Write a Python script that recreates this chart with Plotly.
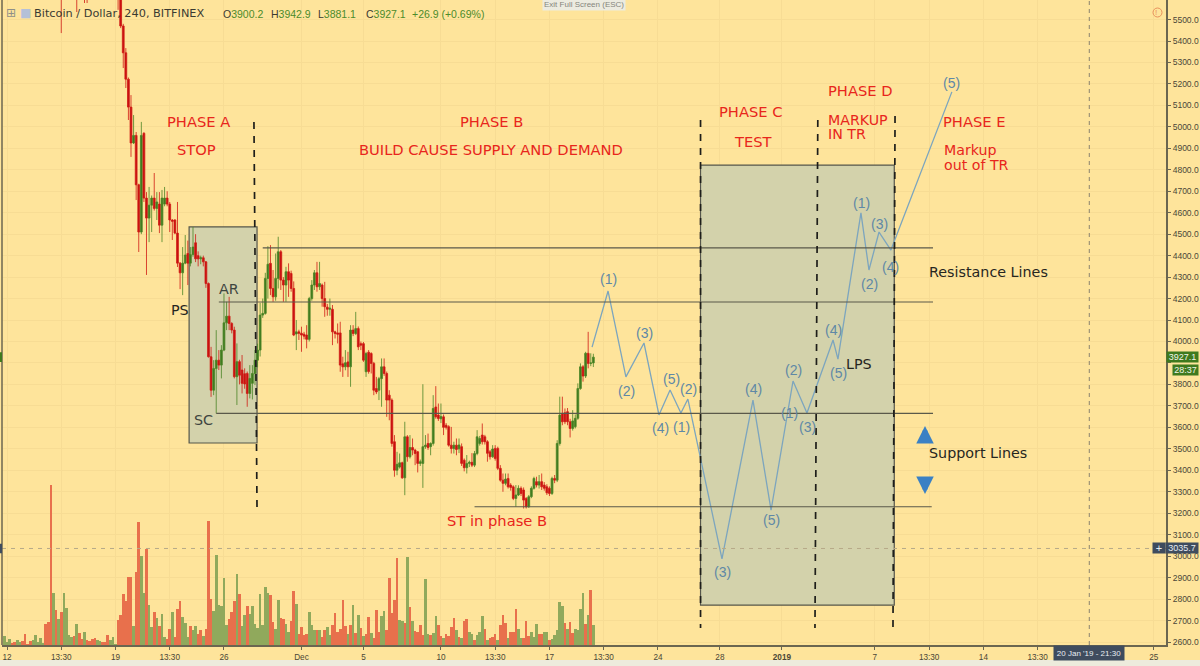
# Bitcoin / Dollar 4h chart with Wyckoff phases, bars are numbered from 12 Nov (6 bars per day)
import plotly.graph_objects as go

# candles
candle_bar = [21, 27, 30, 31] + list(range(43, 228))
candle_open = [5800, 5800, 5800, 5800, 5700,
    5640, 5470, 5345, 5222, 5092, 4925, 4960, 4730, 4510, 4970,
    4668, 4575, 4635, 4668, 4620, 4640, 4542, 4640, 4668, 4640,
    4566, 4566, 4505, 4365, 4320, 4365, 4410, 4365, 4405, 4460,
    4400, 4385, 4390, 4371, 4270, 3929, 3773, 3874, 3913, 3890,
    3960, 4087, 4118, 4084, 4053, 3836, 3906, 3867, 3850, 3851,
    3758, 3805, 3851, 3913, 3960, 4123, 4131, 4294, 4364, 4247,
    4208, 4294, 4418, 4286, 4263, 4325, 4317, 4247, 4035, 4045,
    4038, 4034, 4030, 4010, 4200, 4263, 4320, 4255, 4263, 4200,
    4160, 4150, 4150, 4045, 4040, 4040, 3896, 3882, 3905, 3882,
    4053, 4037, 4060, 3990, 3990, 3859, 3950, 3944, 3898, 3781,
    3773, 3827, 3882, 3851, 3750, 3727, 3533, 3400, 3415, 3435,
    3365, 3556, 3463, 3506, 3494, 3486, 3432, 3432, 3510, 3525,
    3510, 3525, 3695, 3657, 3640, 3649, 3610, 3603, 3517, 3501,
    3517, 3500, 3510, 3447, 3412, 3432, 3437, 3424, 3478, 3525,
    3564, 3556, 3533, 3486, 3463, 3502, 3502, 3409, 3354, 3339,
    3362, 3331, 3323, 3269, 3285, 3316, 3308, 3269, 3230, 3277,
    3316, 3347, 3331, 3347, 3331, 3323, 3316, 3292, 3362, 3354,
    3525, 3665, 3668, 3673, 3626, 3595, 3603, 3642, 3781, 3882,
    3839, 3945, 3898, 3900.2]
candle_high = [5900, 5900, 5900, 5900, 5750,
    5650, 5480, 5367, 5230, 5148, 5055, 4976, 4735, 5023, 4975,
    4696, 4720, 4680, 4785, 4696, 4696, 4706, 4720, 4700, 4650,
    4570, 4570, 4650, 4370, 4440, 4496, 4470, 4440, 4533, 4500,
    4420, 4400, 4400, 4375, 4275, 3975, 3913, 4053, 3960, 3983,
    4224, 4185, 4208, 4090, 4069, 3991, 3915, 3937, 3875, 3860,
    3890, 3890, 3960, 3990, 4180, 4200, 4320, 4444, 4449, 4333,
    4410, 4488, 4426, 4300, 4348, 4364, 4330, 4280, 4100, 4055,
    4069, 4045, 4076, 4208, 4286, 4333, 4371, 4371, 4270, 4278,
    4175, 4200, 4170, 4050, 4084, 4092, 3929, 3960, 3952, 4076,
    4076, 4138, 4070, 4000, 3998, 3952, 3960, 3950, 3905, 3835,
    3835, 3921, 3921, 3860, 3773, 3735, 3564, 3486, 3478, 3440,
    3626, 3564, 3564, 3548, 3500, 3490, 3450, 3801, 3564, 3571,
    3530, 3750, 3792, 3711, 3711, 3660, 3620, 3610, 3602, 3533,
    3548, 3548, 3525, 3455, 3471, 3445, 3480, 3490, 3587, 3560,
    3618, 3565, 3540, 3495, 3517, 3517, 3510, 3424, 3385, 3385,
    3385, 3340, 3330, 3331, 3330, 3325, 3320, 3275, 3285, 3325,
    3370, 3370, 3378, 3385, 3345, 3335, 3325, 3370, 3378, 3540,
    3743, 3743, 3688, 3690, 3640, 3680, 3660, 3805, 3898, 3890,
    3952, 4045, 3945, 3942.9]
candle_low = [5437, 5535, 5577, 5577, 5545,
    5460, 5274, 5181, 5032, 4860, 4920, 4659, 4417, 4500, 4650,
    4310, 4463, 4510, 4610, 4566, 4505, 4463, 4630, 4630, 4510,
    4473, 4500, 4347, 4244, 4216, 4360, 4263, 4350, 4395, 4370,
    4350, 4360, 4350, 4250, 3925, 3742, 3750, 3665, 3867, 3828,
    3955, 4053, 4053, 4038, 3828, 3704, 3800, 3758, 3780, 3696,
    3735, 3730, 3797, 3880, 3930, 4110, 4125, 4200, 4216, 4185,
    4190, 4247, 4240, 4185, 4185, 4208, 4232, 4025, 3960, 4007,
    3952, 4010, 3968, 4000, 4190, 4240, 4232, 4240, 4162, 4115,
    4120, 4120, 3983, 4014, 3991, 3859, 3835, 3866, 3835, 3789,
    4025, 4030, 3960, 3960, 3905, 3835, 3850, 3851, 3750, 3755,
    3727, 3696, 3840, 3649, 3633, 3510, 3370, 3377, 3408, 3360,
    3284, 3440, 3455, 3470, 3424, 3390, 3420, 3318, 3500, 3495,
    3470, 3515, 3640, 3630, 3620, 3564, 3590, 3510, 3478, 3478,
    3470, 3480, 3420, 3395, 3385, 3415, 3415, 3415, 3470, 3515,
    3520, 3520, 3440, 3450, 3458, 3445, 3401, 3347, 3300, 3330,
    3315, 3305, 3261, 3230, 3280, 3280, 3222, 3222, 3225, 3270,
    3310, 3320, 3315, 3308, 3305, 3285, 3280, 3285, 3340, 3345,
    3515, 3610, 3615, 3610, 3553, 3585, 3595, 3635, 3775, 3813,
    3830, 3875, 3885, 3881.1]
candle_close = [5750, 5750, 5750, 5750, 5640,
    5470, 5345, 5222, 5092, 4925, 4960, 4730, 4510, 4960, 4668,
    4575, 4635, 4668, 4620, 4650, 4542, 4668, 4668, 4640, 4566,
    4560, 4505, 4365, 4320, 4365, 4403, 4365, 4405, 4440, 4385,
    4385, 4390, 4371, 4270, 3929, 3773, 3874, 3913, 3890, 3960,
    4087, 4118, 4084, 4053, 3836, 3906, 3843, 3805, 3802, 3758,
    3828, 3851, 3913, 3960, 4123, 4131, 4294, 4360, 4247, 4208,
    4294, 4418, 4286, 4263, 4325, 4286, 4247, 4030, 4045, 4038,
    4030, 4025, 4010, 4200, 4263, 4320, 4255, 4270, 4200, 4162,
    4150, 4155, 4045, 4037, 4034, 3890, 3882, 3901, 3882, 4053,
    4037, 4060, 3975, 3983, 3913, 3944, 3860, 3898, 3773, 3765,
    3827, 3882, 3851, 3727, 3727, 3525, 3400, 3428, 3435, 3365,
    3556, 3463, 3506, 3494, 3478, 3432, 3440, 3510, 3517, 3506,
    3525, 3688, 3649, 3641, 3650, 3600, 3600, 3517, 3501, 3517,
    3497, 3518, 3432, 3412, 3432, 3437, 3424, 3478, 3556, 3548,
    3533, 3533, 3479, 3463, 3499, 3455, 3409, 3354, 3339, 3359,
    3323, 3320, 3269, 3285, 3316, 3292, 3261, 3230, 3277, 3316,
    3362, 3331, 3347, 3323, 3316, 3295, 3292, 3362, 3354, 3525,
    3657, 3626, 3626, 3626, 3595, 3630, 3642, 3781, 3882, 3839,
    3945, 3898, 3900, 3927.1]

# volume, first bar is number -1, side r = down bar, g = up bar
volume_bar = list(range(-1, 228))
volume = [9, 3, 6, 2, 3, 5, 3, 4, 11, 1, 4, 5, 10, 3, 7, 2,
    21, 23, 160, 52, 35, 26, 33, 52, 37, 10, 8, 9, 21, 12, 6, 13, 5, 4, 6, 7, 5, 4, 3, 3, 10, 5, 8, 1,
    25, 30, 51, 44, 68, 68, 19, 73, 123, 89, 52, 96, 40, 18, 33, 27, 19, 31, 8, 6, 16, 33, 8, 36, 44, 28, 22,
    8, 19, 15, 19, 11, 15, 9, 16, 124, 46, 34, 90, 40, 39, 67, 20, 26, 33, 44, 71, 51, 19, 30, 39, 31,
    39, 21, 17, 51, 20, 58, 52, 50, 23, 16, 45, 27, 26, 21, 13, 24, 54, 41, 11, 18, 10, 11, 33, 20, 15, 15, 15,
    8, 15, 18, 10, 20, 32, 13, 16, 45, 19, 11, 20, 40, 12, 30, 17, 9, 11, 28, 12, 7, 35, 13, 29, 34, 15, 67, 32,
    45, 87, 25, 24, 22, 88, 38, 24, 14, 13, 20, 10, 66, 11, 10, 12, 29, 20, 9, 7, 11, 9, 18, 27, 15, 8, 7, 24, 26,
    13, 11, 5, 10, 13, 29, 16, 5, 7, 8, 11, 5, 20, 30, 22, 7, 13, 13, 36, 16, 7, 7, 24, 9, 13, 8, 21, 11, 11, 13, 13,
    5, 6, 10, 15, 43, 39, 22, 16, 23, 12, 16, 15, 36, 52, 21, 30, 55, 20]
volume_side = ("gggrrggrrrrggggg"
    "rrrgrgrggggrgrrgrrrrggrrrggg"
    "rrrrrrgrrggrggrgrggrrgrrrgg"
    "grggrrgrrrggggggrrrgrggrggggggggrrggrrggrrgrrrrgggrg"
    "rrggrrrrrrgrgrgrgrrgrrrggrrrrrggrgrgrrrrggrggrrgrrrrgrgrrggrgggrgrrrgrrrgrrrggrrrgggrrggrgggggrgrrggggrgrg")
assert len(volume) == len(volume_bar) == len(volume_side)
assert len(candle_bar) == len(candle_open) == len(candle_high) == len(candle_low) == len(candle_close)

# the hand drawn wave
wave_bar = [226.5, 232.7, 239.6, 246.6, 252.4, 256.7, 260.9, 263.6, 276.8, 288.8, 295.8, 304.3, 309.7, 319.8, 321.7, 330.6, 333.7, 337.6, 342.2, 365.8]
wave_price = [3974, 4235, 3835, 3993, 3658, 3774, 3667, 3732, 2987, 3727, 3214, 3816, 3667, 4007, 3918, 4599, 4333, 4510, 4426, 5163]

# horizontal levels: start bar, end bar, price
level_start = [99, 82, 81, 181]
level_end = [358.5, 358.5, 358.5, 358]
level_price = [4436, 4184, 3665, 3230]

# boxes and phase dividers
box_bar0 = [70.5, 268.5]
box_bar1 = [96.8, 343.5]
box_low = [3527, 2772]
box_high = [4534, 4822]
divider_bar0 = [95.6, 268.5, 313.9, 343.8]
divider_bar1 = [96.8, 268.5, 312.8, 343.0]
divider_top = [5023, 5032, 5032, 5050]
divider_bottom = [3210, 2665, 2665, 2665]

# axes
tick_bar = [0, 21, 42, 63, 84, 114, 138, 168, 189, 210, 231, 252, 276, 300, 336, 357, 378, 399, 444]
tick_text = ["12", "13:30", "19", "13:30", "26", "Dec", "5", "10", "13:30", "17", "13:30", "24", "28",
             "<b>2019</b>", "7", "13:30", "14", "13:30", "25"]
price_ticks = list(range(2600, 5600, 100))
# the 3900 label sits under the live price flags
price_labels = ["" if p == 3900 else f"{p}.0" for p in price_ticks]

BG = "#FEE49B"
GRID = "#F7DC94"
TEXT = "#4A4738"
RED_TXT = "#E8261C"
WAVE_TXT = "#5F88A6"

fig = go.Figure()

fig.add_trace(go.Bar(x=volume_bar, y=volume, yaxis="y2",
                     marker_color=["#E8704C" if s == "r" else "#90A95C" for s in volume_side],
                     marker_line_width=0, hoverinfo="skip"))

fig.add_trace(go.Candlestick(x=candle_bar, open=candle_open, high=candle_high, low=candle_low, close=candle_close,
                             increasing=dict(line=dict(color="#4A8426", width=0.8), fillcolor="#3F7A1E"),
                             decreasing=dict(line=dict(color="#CF1A14", width=0.8), fillcolor="#C81010"),
                             whiskerwidth=0))

fig.add_trace(go.Scatter(x=wave_bar, y=wave_price, mode="lines",
                         line=dict(color="#7CA5BE", width=1.3), hoverinfo="skip"))

shapes = []
for i in range(len(box_bar0)):
    shapes.append(dict(type="rect", layer="between", x0=box_bar0[i], x1=box_bar1[i], y0=box_low[i], y1=box_high[i],
                       fillcolor="#D3D2AB", line=dict(color="#55564B", width=1.2)))
for i in range(len(level_price)):
    shapes.append(dict(type="line", x0=level_start[i], x1=level_end[i], y0=level_price[i], y1=level_price[i],
                       line=dict(color="#5A594A", width=1.1)))
for i in range(len(divider_bar0)):
    shapes.append(dict(type="line", x0=divider_bar0[i], x1=divider_bar1[i], y0=divider_top[i], y1=divider_bottom[i],
                       line=dict(color="#1E1E1A", width=1.7, dash="7px,7px")))
# crosshair
shapes.append(dict(type="line", xref="paper", x0=0, x1=1, y0=3035.7, y1=3035.7,
                   line=dict(color="#B6A988", width=1, dash="4px,5px")))
shapes.append(dict(type="line", yref="paper", x0=419, x1=419, y0=0, y1=1,
                   line=dict(color="#8C8470", width=1, dash="4px,4px")))
# left edge of the chart and the light window strip round it
shapes.append(dict(type="line", xref="paper", yref="paper", x0=0, x1=0, y0=0, y1=1,
                   line=dict(color="#6B6650", width=1.5)))
shapes.append(dict(type="rect", xref="paper", yref="paper", x0=-0.01, x1=1.04, y0=-21 / 645, y1=-15 / 645,
                   fillcolor="#EDEBDC", line_width=0))
shapes.append(dict(type="rect", xref="paper", yref="paper", x0=1198 / 1164, x1=1.04, y0=-0.05, y1=1,
                   fillcolor="#EDEBDC", line_width=0))
# warning icon
shapes.append(dict(type="circle", xref="paper", yref="paper", x0=1151 / 1164, x1=1160 / 1164,
                   y0=1 - 17 / 645, y1=1 - 8 / 645, line=dict(color="#E8915C", width=1)))
# small price marks on the left edge
shapes.append(dict(type="rect", xref="paper", x0=-2 / 1164, x1=0, y0=3905, y1=3950, fillcolor="#3F7A1E", line_width=0))
shapes.append(dict(type="rect", xref="paper", x0=-2 / 1164, x1=0, y0=3013, y1=3058, fillcolor="#3F4C5E", line_width=0))


def note(text, x, y, color=TEXT, size=14, family="DejaVu Sans", anchor="center", **kw):
    # x, y are window pixels, plotly pads left anchored text by about 2px
    if anchor == "left":
        x -= 2
    return dict(text=text, xref="paper", yref="paper", x=(x - 2) / 1164, y=1 - y / 645,
                xanchor=anchor, yanchor="middle", showarrow=False,
                font=dict(color=color, size=size, family=family), **kw)


def fat_arrow(x, tip_y, tail):
    # tail is how far the tail is below the tip, in pixels (negative for a down arrow)
    return dict(text="", xref="paper", yref="paper", x=(x - 2) / 1164, y=1 - tip_y / 645,
                showarrow=True, ax=0, ay=tail, arrowhead=2, arrowsize=0.7, arrowwidth=5, arrowcolor="#3A80C4")


notes = []
# phase texts
for t, x, y in [("PHASE A", 198, 121), ("STOP", 197, 150), ("PHASE B", 491, 121),
                ("BUILD CAUSE SUPPLY AND DEMAND", 491, 150), ("PHASE C", 750, 111), ("TEST", 753, 141),
                ("PHASE D", 860, 91), ("PHASE E", 974, 121), ("ST in phase B", 497, 520)]:
    notes.append(note(t, x, y, RED_TXT, 14.7))
for t, x, y in [("MARKUP", 828, 120), ("IN TR", 828, 134), ("Markup", 944, 150), ("out of TR", 944, 165)]:
    notes.append(note(t, x, y, RED_TXT, 14.2, anchor="left"))
# wyckoff events
for t, x, y in [("Resistance Lines", 988, 272), ("Support Lines", 978, 453), ("LPS", 859, 364), ("PS", 180, 310)]:
    notes.append(note(t, x, y, "#26261F", 14.3))
for t, x, y in [("AR", 229, 289), ("SC", 203, 420)]:
    notes.append(note(t, x, y, "#3E4540", 14.3))
notes.append(fat_arrow(925, 426, 15))
notes.append(fat_arrow(925, 494, -15))
# wave counts
for t, x, y in [("(1)", 608, 279), ("(2)", 626, 391), ("(3)", 644, 333), ("(4)", 660, 428), ("(5)", 671, 379),
                ("(1)", 681, 427), ("(2)", 688, 389), ("(3)", 722, 572), ("(4)", 753, 389), ("(5)", 771, 520),
                ("(1)", 789, 413), ("(2)", 793, 370), ("(3)", 807, 427), ("(4)", 833, 330), ("(5)", 838, 373),
                ("(1)", 861, 203), ("(2)", 869, 284), ("(3)", 879, 224), ("(4)", 890, 267), ("(5)", 951, 83)]:
    notes.append(note(t, x, y, WAVE_TXT, 14, "Liberation Sans"))
# header
notes.append(note("⊞", 11, 13, "#8F8F88", 12))
notes.append(note("■", 25, 13, "#B4C0D8", 12))
notes.append(note("Bitcoin / Dollar, 240, BITFINEX", 34, 14, "#3A3A32", 11.3, anchor="left"))
GREEN = "#4C8B2B"
for lab, val, x in [("O", "3900.2", 223), ("H", "3942.9", 271), ("L", "3881.1", 318), ("C", "3927.1", 366)]:
    notes.append(note(f"{lab}<span style='color:{GREEN}'>{val}</span>", x, 14, "#3A3A32", 10.5, "Liberation Sans", anchor="left"))
notes.append(note("+26.9 (+0.69%)", 412, 14, GREEN, 10.5, "Liberation Sans", anchor="left"))
notes.append(note("Exit Full Screen (ESC)", 584, 4, "#85857C", 8, "Liberation Sans", bgcolor="#ECEBE0", borderpad=1))
notes.append(note("!", 1155.5, 12.5, "#E8915C", 8, "Liberation Sans"))
# price and time flags
notes.append(note("3927.1", 1182.5, 357, "#F2F5E8", 9, "Liberation Sans", bgcolor="#3F7A1E", borderpad=0, width=31, height=10))
notes.append(note("28:37", 1185.5, 370, "#F2F5E8", 9, "Liberation Sans", bgcolor="#3F7A1E", borderpad=0, width=25, height=10))
notes.append(note("+", 1159, 548, "#E8ECF2", 11, "Liberation Sans", bgcolor="#3F4C5E", borderpad=0, width=12, height=10))
notes.append(note("3035.7", 1182, 548, "#E8ECF2", 9, "Liberation Sans", bgcolor="#3F4C5E", borderpad=0, width=32, height=10))
notes.append(note("20 Jan '19 - 21:30", 1089, 653, "#E8ECF2", 8, "Liberation Sans", bgcolor="#3F4C5E", borderpad=0, width=70, height=14))

fig.update_layout(
    width=1200, height=666,
    margin=dict(l=2, r=34, t=0, b=21, autoexpand=False),
    paper_bgcolor=BG, plot_bgcolor=BG,
    showlegend=False, bargap=0, boxgap=0.3, boxgroupgap=0,
    shapes=shapes, annotations=notes,
    xaxis=dict(range=[-1.94, 448.7], tickmode="array", tickvals=tick_bar, ticktext=tick_text,
               rangeslider=dict(visible=False), showgrid=True, gridcolor=GRID, gridwidth=1, zeroline=False,
               showline=True, linecolor="#6B6650", linewidth=2, ticks="outside", ticklen=3, tickcolor="#6B6650",
               tickfont=dict(family="Liberation Sans", size=8.2, color=TEXT), tickangle=0),
    yaxis=dict(range=[2586, 5591], side="right", tickmode="array", tickvals=price_ticks,
               ticktext=price_labels, showgrid=True, gridcolor=GRID, gridwidth=1, zeroline=False,
               showline=True, linecolor="#6B6650", linewidth=2, ticks="outside", ticklen=3, tickcolor="#6B6650",
               tickfont=dict(family="Liberation Sans", size=8.5, color=TEXT)),
    yaxis2=dict(range=[0, 645], overlaying="y", side="left", visible=False),
)

# the browser's default body margin would push the chart off the window
fig.write_html("out.html", config={"displayModeBar": False},
               post_script="document.body.style.margin='0';document.body.style.overflow='hidden';")
